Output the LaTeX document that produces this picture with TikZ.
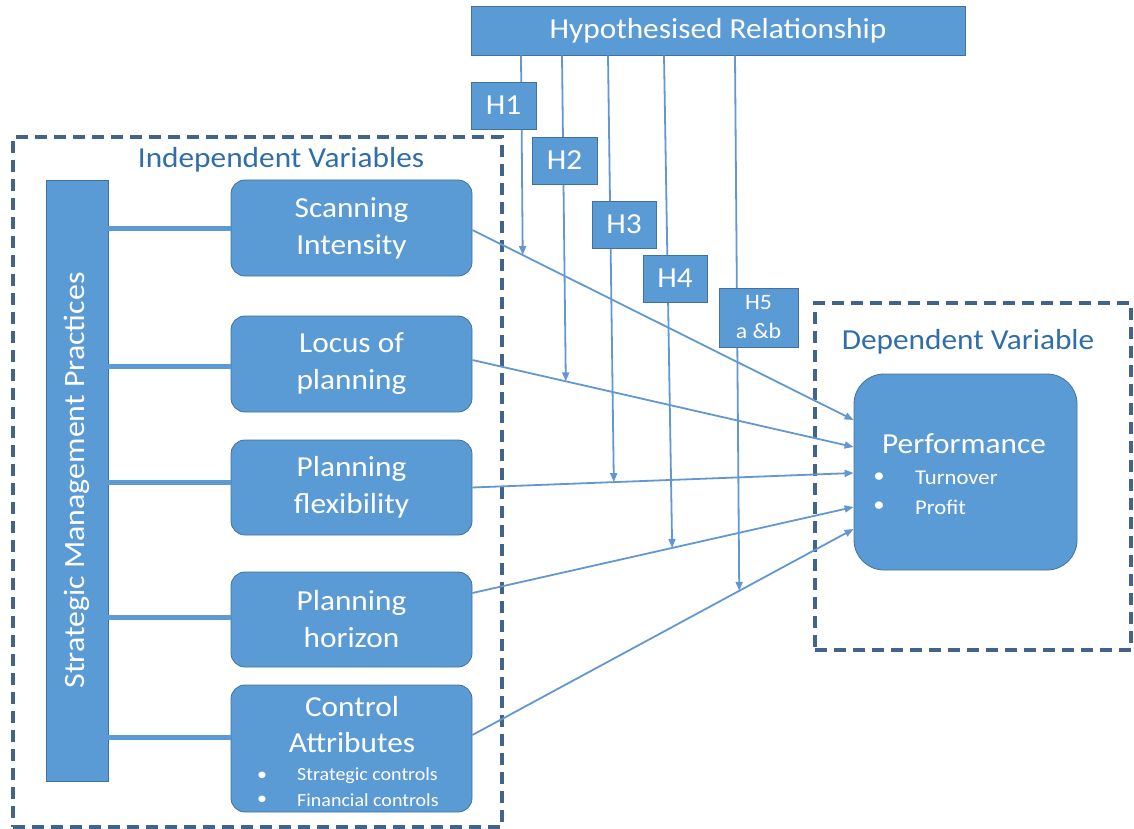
\documentclass[tikz,border=0pt]{standalone}
\usepackage{fontspec}
\setmainfont[FakeStretch=1.08]{Carlito}
\usetikzlibrary{arrows.meta,calc}
\definecolor{boxblue}{HTML}{5B9BD5}
\definecolor{boxedge}{HTML}{41719C}
\definecolor{dashcol}{RGB}{66,99,138}
\definecolor{titlecol}{RGB}{47,110,170}
\definecolor{linkcol}{RGB}{98,151,210}
\tikzset{
  bluebox/.style={draw=boxedge, line width=0.8pt, fill=boxblue, text=white, align=center, inner sep=0pt},
  roundbox/.style={bluebox, rounded corners=14pt, minimum width=241pt, font=\fontsize{29}{37}\selectfont},
  hbox/.style={bluebox, minimum width=65pt, minimum height=47pt, font=\fontsize{29}{34}\selectfont},
  dashbox/.style={draw=dashcol, line width=4pt, dash pattern=on 12pt off 7pt, inner sep=0pt},
  grouptitle/.style={text=titlecol, font=\fontsize{29}{34}\selectfont},
  barlink/.style={draw=boxblue, line width=5pt},
  link/.style={draw=linkcol, line width=1.8pt, -{Triangle[length=9pt,width=7pt]}},
  whitetext/.style={text=white, inner sep=0pt},
}
\begin{document}
\begin{tikzpicture}[x=1pt,y=-1pt]
\useasboundingbox (0,0) rectangle (1134,829);
% group boxes
\node[dashbox, minimum width=489pt, minimum height=690pt] (indep) at (257.5,482) {};
\node[dashbox, minimum width=316pt, minimum height=347pt] (dep) at (973,476.5) {};
\node[grouptitle] (indeptitle) at (281,160) {Independent Variables};
\node[grouptitle] (deptitle) at (968,342) {Dependent Variable};
% hypothesised relationship
\node[bluebox, minimum width=494pt, minimum height=49pt, font=\fontsize{29}{34}\selectfont] (hyp) at (718,30.5) {Hypothesised Relationship};
% left bar
\node[bluebox, minimum width=62pt, minimum height=601pt] (bar) at (77,480.5) {};
\node[whitetext, rotate=90, font=\fontsize{29.5}{34}\selectfont] (bartext) at (bar.center) {Strategic Management Practices};
% variable boxes
\node[roundbox, minimum height=96pt] (s1) at (351.5,228) {Scanning\\Intensity};
\node[roundbox, minimum height=96pt] (s2) at (351.5,364) {Locus of\\planning};
\node[roundbox, minimum height=95pt] (s3) at (351.5,487.5) {Planning\\flexibility};
\node[roundbox, minimum height=95pt] (s4) at (351.5,619.5) {Planning\\horizon};
\node[roundbox, minimum height=127pt] (s5) at (351.5,748.5) {};
\node[whitetext, font=\fontsize{29}{37}\selectfont] (s5a) at (352,707) {Control};
\node[whitetext, font=\fontsize{29}{37}\selectfont] (s5b) at (352,743) {Attributes};
\node[whitetext, font=\fontsize{18.5}{24}\selectfont] (s5c1) at (262,776) {•};
\node[whitetext, font=\fontsize{18.5}{24}\selectfont, anchor=west] (s5c2) at (297,776) {Strategic controls};
\node[whitetext, font=\fontsize{18.5}{24}\selectfont] (s5d1) at (262,800) {•};
\node[whitetext, font=\fontsize{18.5}{24}\selectfont, anchor=west] (s5d2) at (297,800) {Financial controls};
% performance
\node[bluebox, rounded corners=30pt, minimum width=223pt, minimum height=196pt] (perf) at (965.5,472) {};
\node[whitetext, font=\fontsize{29}{34}\selectfont] (perft) at (964,444) {Performance};
\node[whitetext, font=\fontsize{21}{29}\selectfont] (pb1) at (879,478) {•};
\node[whitetext, font=\fontsize{21}{29}\selectfont, anchor=west] (pt1) at (915,478) {Turnover};
\node[whitetext, font=\fontsize{21}{29}\selectfont] (pb2) at (879,507) {•};
\node[whitetext, font=\fontsize{21}{29}\selectfont, anchor=west] (pt2) at (915,507) {Profit};
% bar connectors
\coordinate (c1) at (s1.west);
\coordinate (c2) at ([yshift=-2pt]s2.west);
\coordinate (c3) at ([yshift=5.5pt]s3.west);
\coordinate (c4) at ([yshift=2.5pt]s4.west);
\coordinate (c5) at ([yshift=11.5pt]s5.west);
\foreach \c in {c1,c2,c3,c4,c5} {\draw[barlink] (\c) -- (\c -| bar.east);}
% connectors to performance
\draw[link] ([yshift=-2pt]s1.east) -- coordinate[pos=0.132] (t1) ([yshift=52pt]perf.west);
\draw[link] ([yshift=4pt]s2.east) -- coordinate[pos=0.245] (t2) ([yshift=25pt]perf.west);
\draw[link] (s3.east) -- coordinate[pos=0.371] (t3) ([yshift=-1pt]perf.west);
\draw[link] ([yshift=26.5pt]s4.east) -- coordinate[pos=0.524] (t4) ([yshift=-35pt]perf.west);
\draw[link] ([yshift=13.5pt]s5.east) -- coordinate[pos=0.70] (t5) ([yshift=-57pt]perf.west);
% hypothesis lines
\draw[link] ([xshift=-197pt]hyp.south) -- (t1);
\draw[link] ([xshift=-156pt]hyp.south) -- (t2);
\draw[link] ([xshift=-110pt]hyp.south) -- (t3);
\draw[link] ([xshift=-54pt]hyp.south) -- (t4);
\draw[link] ([xshift=17pt]hyp.south) -- (t5);
% hypothesis labels
\node[hbox] (h1) at (503.5,105.5) {H1};
\node[hbox] (h2) at (564.5,160.5) {H2};
\node[hbox, minimum width=64pt] (h3) at (624,224.5) {H3};
\node[hbox, minimum width=64pt] (h4) at (675,278.5) {H4};
\node[hbox, minimum width=79pt, minimum height=59pt, font=\fontsize{22}{29}\selectfont] (h5) at (758.5,317.5) {H5\\a \&b};
\end{tikzpicture}
\end{document}
